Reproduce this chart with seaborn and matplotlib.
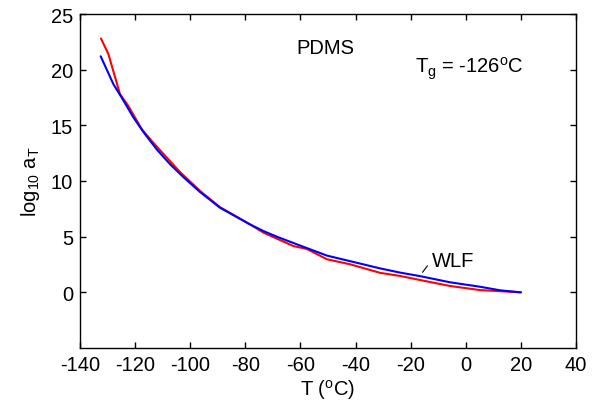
import numpy as np
import pandas as pd
import matplotlib
matplotlib.use("Agg")
import matplotlib.pyplot as plt
import seaborn as sns

# WLF fit (blue)
t_wlf = [-132.5, -127.9, -124.9, -120.6, -117.0, -112.2, -107.3, -102.5, -96.4, -89.2,
         -78.3, -73.4, -68.6, -60.1, -50.4, -42.0, -31.1, -23.8, -16.5, -5.7, 5.2, 12.5, 20.0]
log_at_wlf = [21.2, 18.7, 17.5, 15.7, 14.4, 12.85, 11.5, 10.35, 9.0, 7.6,
              6.1, 5.5, 5.0, 4.2, 3.3, 2.8, 2.15, 1.77, 1.45, 0.9, 0.5, 0.18, 0.0]

# measured shift factors (red)
t_meas = [-132.4, -129.7, -125.5, -122.5, -117.6, -114.0, -108.5, -103.7, -96.4, -89.2,
          -78.3, -73.4, -62.5, -57.7, -50.4, -42.0, -31.1, -23.8, -16.5, -5.7, 5.2, 12.5, 20.0]
log_at_meas = [22.8, 21.4, 17.8, 16.75, 14.66, 13.6, 12.1, 10.8, 9.1, 7.65,
               6.1, 5.36, 4.15, 3.9, 2.97, 2.52, 1.75, 1.47, 1.1, 0.57, 0.2, 0.1, 0.0]

df = pd.concat([
    pd.DataFrame({"T": t_meas, "logaT": log_at_meas, "series": "data"}),
    pd.DataFrame({"T": t_wlf, "logaT": log_at_wlf, "series": "WLF"}),
])

sns.set_style("ticks")
plt.rcParams["font.family"] = ["Liberation Sans", "DejaVu Sans"]
plt.rcParams["mathtext.fontset"] = "custom"
plt.rcParams["mathtext.rm"] = "Liberation Sans"
plt.rcParams["mathtext.it"] = "Liberation Sans"
plt.rcParams["mathtext.bf"] = "Liberation Sans:bold"
plt.rcParams["axes.unicode_minus"] = False
plt.rcParams["text.color"] = "black"
plt.rcParams["axes.labelcolor"] = "black"
plt.rcParams["xtick.color"] = "black"
plt.rcParams["ytick.color"] = "black"
plt.rcParams["axes.edgecolor"] = "black"

FS = 14.5

fig = plt.figure(figsize=(5.99, 4.10), dpi=100)
ax = fig.add_axes([0.1336, 0.1488, 0.828, 0.8146])

sns.lineplot(data=df, x="T", y="logaT", hue="series",
             palette={"data": "#ff0000", "WLF": "#0000ff"},
             hue_order=["data", "WLF"], estimator=None, sort=False,
             linewidth=1.5, legend=False, ax=ax)

ax.set_xlim(-140, 40)
ax.set_ylim(-5, 25)
ax.set_xticks(np.arange(-140, 41, 20))
ax.set_yticks(np.arange(0, 26, 5))
ax.tick_params(direction="in", top=True, right=True, length=4, width=1,
               labelsize=FS, pad=5)
for sp in ax.spines.values():
    sp.set_visible(True)
    sp.set_linewidth(1.0)

ax.set_xlabel("T ($^{\\rm o}$C)", fontsize=FS, labelpad=2)
ax.set_ylabel("log$_{10}$ a$_{\\rm T}$", fontsize=FS, labelpad=6)

ax.text(-51, 22.0, "PDMS", fontsize=FS, ha="center", va="center")
ax.text(-18.6, 20.2, "T$_{\\rm g}$ = -126$^{\\rm o}$C", fontsize=FS, ha="left", va="center")
ax.text(-12.3, 2.9, "WLF", fontsize=FS, ha="left", va="center")
ax.annotate("", xy=(-16.3, 1.6), xytext=(-13.3, 2.58),
            arrowprops=dict(arrowstyle="-", color="black", lw=0.8))

fig.savefig("out.png", dpi=100)
